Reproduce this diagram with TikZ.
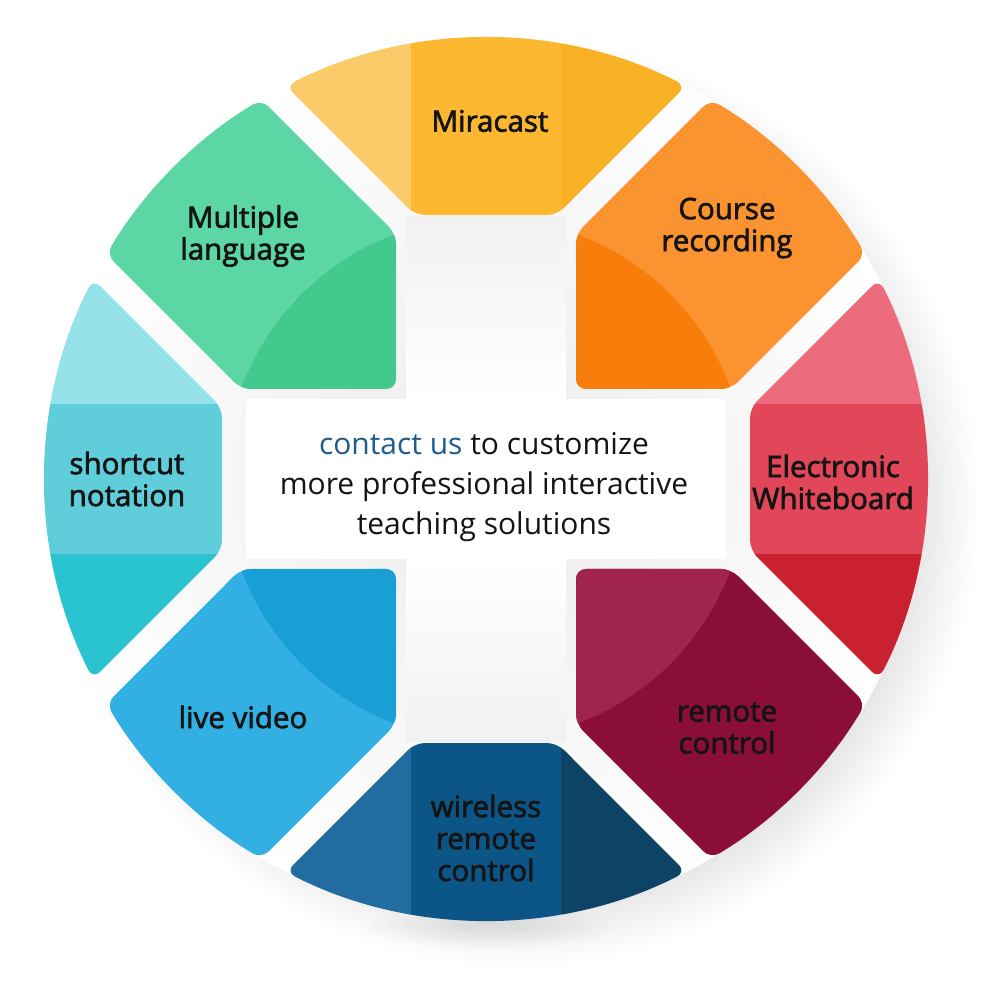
\documentclass[tikz,border=0pt]{standalone}
\usepackage{fontspec}
\setmainfont{Open Sans}
\newfontfamily\labfont{Open Sans}[FakeBold=2.2]
\definecolor{txt}{HTML}{141414}
\definecolor{contactblue}{HTML}{1E5D8C}
\definecolor{miraL}{HTML}{FBCB6A}\definecolor{miraM}{HTML}{FBB830}\definecolor{miraR}{HTML}{F8B124}
\definecolor{courM}{HTML}{FB9430}\definecolor{courI}{HTML}{F77E0B}
\definecolor{ewT}{HTML}{EC6B7C}\definecolor{ewM}{HTML}{E24659}\definecolor{ewB}{HTML}{C9212F}
\definecolor{remM}{HTML}{8B0E3A}\definecolor{remI}{HTML}{A0244F}
\definecolor{wirL}{HTML}{226CA1}\definecolor{wirM}{HTML}{0C5587}\definecolor{wirR}{HTML}{0D4466}
\definecolor{livM}{HTML}{33B0E3}\definecolor{livI}{HTML}{1A9ED6}
\definecolor{shoT}{HTML}{95E2EB}\definecolor{shoM}{HTML}{5FCDDA}\definecolor{shoB}{HTML}{2AC4D0}
\definecolor{mulM}{HTML}{5CD6A4}\definecolor{mulI}{HTML}{43C88E}
\definecolor{gapgray}{HTML}{EBEBEB}
\newcommand\cardpath{(-71,264) -- (71,264) -- (200,393) arc[start angle=63.03,end angle=116.97,radius=441] -- cycle}
\newcommand\diagpath{(90,90) -- (90,245) -- (224.55,379.55) arc[start angle=59.39,end angle=30.61,radius=441] -- (245,90) -- cycle}
\newcommand\cardseg[4]{%
  \begin{scope}[rotate=#1]
    \clip[rounded corners=10pt] \cardpath;
    \fill[#2] (-300,200) rectangle (-75,460);
    \fill[#3] (-75,200) rectangle (75,460);
    \fill[#4] (75,200) rectangle (300,460);
  \end{scope}}
\newcommand\diagseg[3]{%
  \begin{scope}[rotate=#1]
    \clip[rounded corners=10pt] \diagpath;
    \fill[#2] (60,60) rectangle (460,460);
    \fill[#3] (90,90) -- (90,245) arc[start angle=69.83,end angle=20.17,radius=261] -- cycle;
  \end{scope}}
\tikzset{
  lab/.style={font=\labfont\fontsize{29.5}{32}\selectfont, text=txt, align=center, inner sep=0pt},
  ctr/.style={font=\fontsize{30}{40}\selectfont, text=txt, align=center, inner sep=0pt}
}
\begin{document}
\begin{tikzpicture}[x=1pt,y=1pt]
\useasboundingbox (-486,-521) rectangle (514,479);
\fill[white] (-486,-521) rectangle (514,479);
% soft shadow to the lower right
\foreach \r in {0,...,12}{
  \fill[black,opacity=0.008] (30,-24) circle[radius=402+5*\r];
}
\foreach \r in {0,...,5}{
  \fill[black,opacity=0.01] (4,-448) ellipse[x radius=40+16*\r,y radius=6+3*\r];
}
% disc and centre
\shade[inner color=gapgray, outer color=white] (0,0) circle[radius=441];
\fill[white] (-240,-80) rectangle (240,80);
\shade[top color=gapgray!70, bottom color=white] (-80,80) rectangle (80,262);
\shade[top color=white, bottom color=gapgray!70] (-80,-262) rectangle (80,-80);
% segments
\cardseg{0}{miraL}{miraM}{miraR}
\diagseg{0}{courM}{courI}
\cardseg{-90}{ewT}{ewM}{ewB}
\diagseg{-90}{remM}{remI}
\cardseg{180}{wirR}{wirM}{wirL}
\diagseg{180}{livM}{livI}
\cardseg{90}{shoB}{shoM}{shoT}
\diagseg{90}{mulM}{mulI}
% labels
\node[lab] (mira) at (4,358) {Miracast};
\node[lab] (cour) at (241,251) {Course\\recording};
\node[lab] (ew) at (347,-3) {Electronic\\Whiteboard};
\node[lab] (rem) at (241,-249) {remote\\control};
\node[lab] (wir) at (0,-359) {wireless\\remote\\control};
\node[lab] (liv) at (-243,-238) {live video};
\node[lab] (sho) at (-359,0) {shortcut\\notation};
\node[lab] (mul) at (-243,243) {Multiple\\language};
\node[ctr] (centre) at (-2,-8) {{\color{contactblue}contact us} to customize\\more professional interactive\\teaching solutions};
\end{tikzpicture}
\end{document}
